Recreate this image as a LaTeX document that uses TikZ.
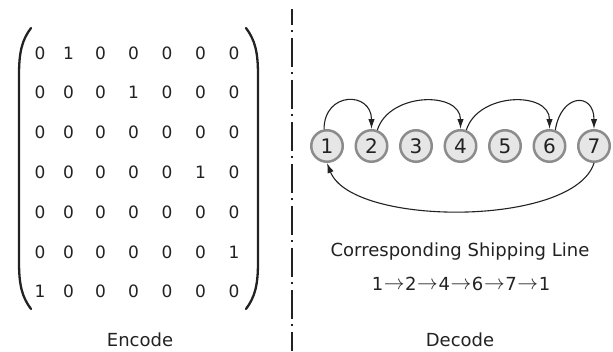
\documentclass[tikz,border=0pt]{standalone}
\usepackage{fontspec}
\setmainfont{DejaVu Sans}
\usetikzlibrary{arrows.meta}
\definecolor{txt}{HTML}{222222}
\definecolor{ring}{HTML}{8C8C8C}
\definecolor{disc}{HTML}{E6E6E6}
\newcommand{\ra}{\kern0.6pt\raisebox{1pt}{\fontsize{20}{20}\selectfont$\rightarrow$}\kern0.6pt}
\tikzset{
  digit/.style={anchor=base, inner sep=0pt, text=txt, font=\fontsize{17}{17}\selectfont},
  caption/.style={anchor=base, inner sep=0pt, text=txt, font=\fontsize{18}{18}\selectfont},
  city/.style={circle, draw=ring, fill=disc, line width=2.5pt, minimum size=31.5pt, inner sep=0pt, text=txt, font=\fontsize{20}{20}\selectfont},
  arr/.style={-{Latex[length=10pt,width=6.5pt]}, line width=1.1pt, draw=txt},
  paren/.style={line width=2.3pt, draw=txt, line cap=round},
}
\begin{document}
\begin{tikzpicture}[x=1pt, y=-1pt]
\useasboundingbox (0,0) rectangle (613,351);
% matrix
\foreach \row [count=\i] in {{0,1,0,0,0,0,0},{0,0,0,1,0,0,0},{0,0,0,0,0,0,0},{0,0,0,0,0,1,0},{0,0,0,0,0,0,0},{0,0,0,0,0,0,1},{1,0,0,0,0,0,0}} {
  \foreach \v [count=\j] in \row {
    \pgfmathsetmacro{\cx}{{40,68.5,100.5,133.5,167,200.5,234}[\j-1]}
    \node[digit] (m\i\j) at (\cx, {59+39.83*(\i-1)}) {\v};
  }
}
\draw[paren] (31,28) .. controls (22,40) and (19,52) .. (19,75) -- (19,262) .. controls (19,285) and (22,297) .. (31,309);
\draw[paren] (246,28) .. controls (255,40) and (258,52) .. (258,75) -- (258,262) .. controls (258,285) and (255,297) .. (246,309);
\node[caption] (enc) at (140,346.5) {Encode};
% divider
\draw[line width=2pt, draw=txt, dash pattern=on 29pt off 5pt on 2pt off 6pt, dash phase=13pt] (291.5,9) -- (291.5,351);
% route graph
\foreach \k/\x in {1/327,2/371.5,3/416,4/460.5,5/505,6/549.5,7/594} {
  \node[city] (n\k) at (\x,146) {\k};
}
\draw[arr] (n1.100) .. controls +(0,-38) and +(0,-38) .. (n2.north);
\draw[arr] (n2.70) .. controls +(12,-38) and +(0,-38) .. (n4.north);
\draw[arr] (n4.70) .. controls +(12,-38) and +(0,-38) .. (n6.north);
\draw[arr] (n6.70) .. controls +(6,-37) and +(0,-37) .. (n7.north);
\draw[arr] (n7.south) .. controls +(-20,64) and +(25,64) .. (n1.south);
\node[caption] (csl) at (460,256.5) {Corresponding Shipping Line};
\node[caption] (seq) at (461,290) {1\ra2\ra4\ra6\ra7\ra1};
\node[caption] (dec) at (460,346.5) {Decode};
\end{tikzpicture}
\end{document}
